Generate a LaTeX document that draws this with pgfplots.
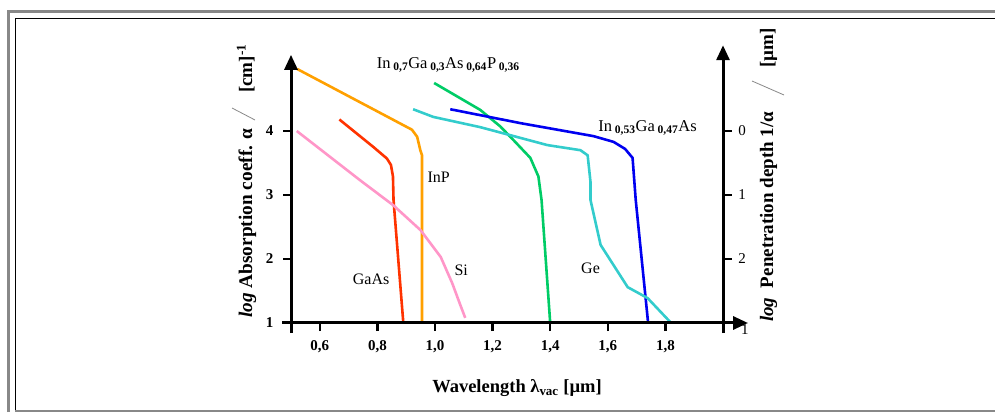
\documentclass[border=0pt]{standalone}
\usepackage{fontspec}
\setmainfont{Liberation Serif}
\usepackage{pgfplots}
\pgfplotsset{compat=1.18}
\usetikzlibrary{arrows.meta}

\definecolor{cInP}{RGB}{255,160,0}
\definecolor{cGaAs}{RGB}{255,51,0}
\definecolor{cSi}{RGB}{255,150,200}
\definecolor{cQ}{RGB}{0,204,102}
\definecolor{cInGaAs}{RGB}{0,0,240}
\definecolor{cGe}{RGB}{51,204,204}
\definecolor{frame}{RGB}{136,136,136}

\newcommand{\fs}[1]{\fontsize{#1}{#1}\selectfont}

\begin{document}
\begin{tikzpicture}[x=1pt,y=1pt]
\useasboundingbox (0,0) rectangle (995,412);
% frame
\draw[frame, line width=3pt] (8.5,0) -- (8.5,400.5) -- (995,400.5);
\draw[black, line width=1.3pt] (15.5,2.5) -- (15.5,393.5) -- (995,393.5);
\draw[frame, line width=2pt] (15,1.5) -- (995,1.5);

\begin{axis}[
    at={(291pt,89pt)}, anchor=south west,
    scale only axis,
    width=432pt, height=268.8pt,
    xmin=0.5, xmax=2.0, ymin=1, ymax=5.2,
    axis lines=left,
    axis line style={draw=none},
    clip=false,
    tick align=outside,
    major tick length=8pt,
    tick style={black, line width=2.5pt},
    xtick={0.6,0.8,1.0,1.2,1.4,1.6,1.8},
    xticklabels={{0,6},{0,8},{1,0},{1,2},{1,4},{1,6},{1,8}},
    ytick={1,2,3,4},
    yticklabels={1,2,3,4},
    ticklabel style={font=\bfseries\fs{15}},
    xticklabel style={yshift=-6pt},
    yticklabel style={xshift=-6pt},
]
\addplot[cInP, line width=2.6pt] coordinates {
(0.521,4.97) (0.920,4.02) (0.938,3.91) (0.949,3.70) (0.955,3.62) (0.955,1.0)
};
\addplot[cGaAs, line width=2.6pt] coordinates {
(0.668,4.18) (0.786,3.75) (0.833,3.57) (0.847,3.47) (0.854,3.29) (0.856,2.92) (0.890,1.0)
};
\addplot[cSi, line width=2.6pt] coordinates {
(0.52,4.0) (0.74,3.23) (0.855,2.84) (0.95,2.45) (1.02,2.03) (1.06,1.62) (1.088,1.28) (1.105,1.08)
};
\addplot[cQ, line width=2.6pt] coordinates {
(0.997,4.75) (1.157,4.33) (1.227,4.07) (1.272,3.86) (1.331,3.58) (1.359,3.29) (1.37,2.92) (1.40,1.0)
};
\addplot[cInGaAs, line width=2.6pt] coordinates {
(1.053,4.34) (1.30,4.12) (1.55,3.92) (1.62,3.83) (1.66,3.72) (1.686,3.58) (1.697,2.92) (1.74,1.0)
};
\addplot[cGe, line width=2.6pt] coordinates {
(0.924,4.34) (0.994,4.22) (1.157,4.06) (1.39,3.78) (1.505,3.70) (1.53,3.62) (1.54,3.2) (1.54,2.92) (1.575,2.22) (1.669,1.56) (1.738,1.39) (1.82,1.0)
};

% axis lines
\draw[line width=3pt, -{Triangle[length=15pt,width=13pt]}] (axis cs:0.5,0.84) -- (axis cs:0.5,5.19);
\draw[line width=3pt, -{Triangle[length=15pt,width=13pt]}] (axis cs:0.47,1) -- (axis cs:2.087,1);
\draw[line width=3pt, -{Triangle[length=15pt,width=13pt]}] (axis cs:2.0,0.84) -- (axis cs:2.0,5.34);
% right-hand ticks and labels
\draw[line width=2.5pt] (axis cs:2.0,4) -- ++(9pt,0pt);
\draw[line width=2.5pt] (axis cs:2.0,3) -- ++(9pt,0pt);
\draw[line width=2.5pt] (axis cs:2.0,2) -- ++(9pt,0pt);
\node[font=\fs{15}] at ([xshift=19pt]axis cs:2.0,4) {0};
\node[font=\fs{15}] at ([xshift=19pt]axis cs:2.0,3) {1};
\node[font=\fs{15}] at ([xshift=19pt]axis cs:2.0,2) {2};
\node[font=\fs{15}] at (axis cs:2.076,0.89) {1};

% curve labels
\node[font=\fs{16}, anchor=west] at (axis cs:0.962,3.28) {InP};
\node[font=\fs{16}] at (axis cs:0.778,1.69) {GaAs};
\node[font=\fs{16}] at (axis cs:1.091,1.83) {Si};
\node[font=\fs{16}] at (axis cs:1.54,1.86) {Ge};
\node[font=\fs{16.5}] at (axis cs:1.738,4.05) {In\,\textsubscript{\bfseries 0,53}Ga\,\textsubscript{\bfseries 0,47}As};
\node[font=\fs{16.5}] at (axis cs:1.046,5.03) {In\,\textsubscript{\bfseries 0,7}Ga\,\textsubscript{\bfseries 0,3}As\,\textsubscript{\bfseries 0,64}P\,\textsubscript{\bfseries 0,36}};
\end{axis}

% x label
\node[font=\bfseries\fs{18.5}] at (517,24) {Wavelength λ\textsubscript{vac} [µm]};

% left y label
\node[font=\bfseries\fs{19.3}, rotate=90, anchor=base west, inner sep=0pt] at (252,94) {\textit{log} Absorption coeff. α};
\draw[frame, line width=0.8pt] (232,304) -- (255,292);
\node[font=\bfseries\fs{19}, rotate=90, anchor=base west, inner sep=0pt] at (252,319) {[cm]\textsuperscript{-1}};

% right y label
\node[font=\bfseries\fs{19}, rotate=90, anchor=base west, inner sep=0pt] at (773,90) {\textit{log}\hspace{0.5em}Penetration depth 1/α};
\draw[frame, line width=0.8pt] (752,331) -- (784,317);
\node[font=\bfseries\fs{19}, rotate=90, anchor=base west, inner sep=0pt] at (773,344) {[µm]};
\end{tikzpicture}
\end{document}
